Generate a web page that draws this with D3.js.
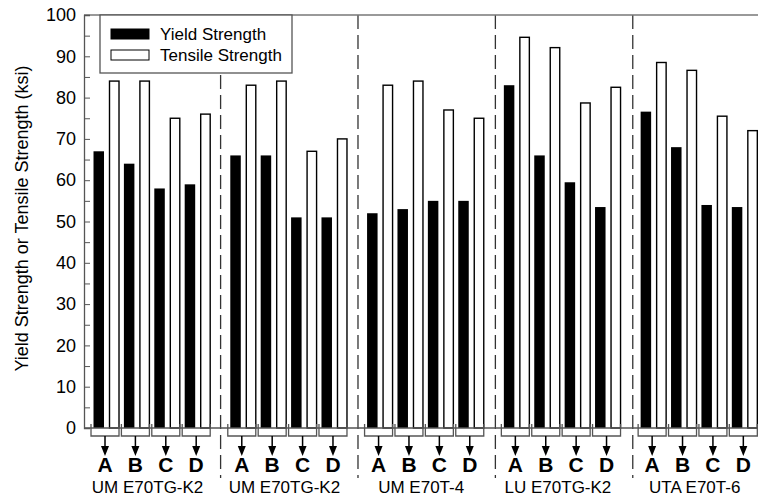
<!DOCTYPE html>
<html>
<head>
<meta charset="utf-8">
<script src="https://d3js.org/d3.v7.min.js"></script>
<style>
  body { margin: 0; background: #fff; }
  text { font-family: "Liberation Sans", Arial, sans-serif; fill: #000; }
</style>
</head>
<body>
<script>
// data (ksi)
var sections = ["UM E70TG-K2", "UM E70TG-K2", "UM E70T-4", "LU E70TG-K2", "UTA E70T-6"];
var specimens = ["A", "B", "C", "D"];
var yieldStrength = [67, 64, 58, 59,  66, 66, 51, 51,  52, 53, 55, 55,  83, 66, 59.5, 53.5,  76.6, 68, 54, 53.5];
var tensileStrength = [84, 84, 75, 76,  83, 84, 67, 70,  83, 84, 77, 75,  94.6, 92.1, 78.7, 82.5,  88.5, 86.6, 75.5, 72];
var yTicks = [0, 10, 20, 30, 40, 50, 60, 70, 80, 90, 100];
var yMinorTicks = [5, 15, 25, 35, 45, 55, 65, 75, 85, 95];

var w = 758, h = 499;
// note: "top" is taken by window.top, so plot edges get their own names
var plotLeft = 84, plotTop = 15, plotBottom = 428;

// one unit = one specimen slot, sections are 4 slots + half a slot gap
function slot(s, g) { return s * 4.5 + g + 0.5; }

var rows = [];
sections.forEach(function(sec, s) {
  specimens.forEach(function(sp, g) {
    var i = s * 4 + g;
    rows.push({ s: s, g: g, pos: slot(s, g), spec: sp, ys: yieldStrength[i], ts: tensileStrength[i] });
  });
});

var x = d3.scaleLinear().domain([-0.224, 21.95]).range([plotLeft, w]);
var y = d3.scaleLinear().domain([0, 100]).range([plotBottom, plotTop]);

var svg = d3.select("body").append("svg")
  .attr("width", w)
  .attr("height", h);

// dashed separators between sections
var seps = d3.range(1, sections.length).map(function(s) { return (slot(s - 1, 3) + slot(s, 0)) / 2 + 0.02 * s; });
svg.selectAll(".sep")
  .data(seps)
  .enter().append("line")
  .attr("x1", function(d) { return x(d); })
  .attr("x2", function(d) { return x(d); })
  .attr("y1", plotTop)
  .attr("y2", 478)
  .attr("stroke", "#333")
  .attr("stroke-width", 1.3)
  .attr("stroke-dasharray", "14,6");

// bars
var bw = 10.5;
svg.selectAll(".ys")
  .data(rows)
  .enter().append("rect")
  .attr("x", function(d) { return x(d.pos) - 12.5; })
  .attr("y", function(d) { return y(d.ys); })
  .attr("width", bw)
  .attr("height", function(d) { return plotBottom - y(d.ys); })
  .attr("fill", "#000");

svg.selectAll(".ts")
  .data(rows)
  .enter().append("rect")
  .attr("x", function(d) { return x(d.pos) + 3.5; })
  .attr("y", function(d) { return y(d.ts); })
  .attr("width", 9.5)
  .attr("height", function(d) { return plotBottom - y(d.ts); })
  .attr("fill", "#fff")
  .attr("stroke", "#000")
  .attr("stroke-width", 1.4);

// axes frame
svg.append("line").attr("x1", plotLeft).attr("x2", w).attr("y1", plotTop).attr("y2", plotTop)
  .attr("stroke", "#777").attr("stroke-width", 1.5);
svg.append("line").attr("x1", plotLeft).attr("x2", w).attr("y1", plotBottom).attr("y2", plotBottom)
  .attr("stroke", "#555").attr("stroke-width", 1.3);

var yAxis = svg.append("g")
  .attr("transform", "translate(" + plotLeft + ",0)")
  .call(d3.axisLeft(y).tickValues(yTicks).tickSize(-6).tickPadding(8));
yAxis.select(".domain").attr("stroke", "#555").attr("stroke-width", 1.3);
yAxis.selectAll(".tick line").attr("stroke", "#555");
yAxis.selectAll("text")
  .style("font-family", "'Liberation Sans', Arial, sans-serif")
  .style("font-size", "18px")
  .attr("fill", "#000");

svg.append("g")
  .attr("transform", "translate(" + plotLeft + ",0)")
  .call(d3.axisLeft(y).tickValues(yMinorTicks).tickSize(-6).tickFormat(""))
  .call(function(g) { g.select(".domain").remove(); })
  .selectAll("line").attr("stroke", "#555");

svg.append("text")
  .attr("transform", "rotate(-90)")
  .attr("x", -(plotTop + plotBottom) / 2 + 3)
  .attr("y", 28)
  .style("text-anchor", "middle")
  .style("font-size", "18px")
  .text("Yield Strength or Tensile Strength (ksi)");

// brackets and arrows under each specimen
var under = svg.selectAll(".grp")
  .data(rows)
  .enter().append("g");

under.append("path")
  .attr("d", function(d) {
    var a = x(d.pos) - 15, b = x(d.pos) + 13;
    return "M" + a + ",424V436H" + b + "V424";
  })
  .attr("fill", "none")
  .attr("stroke", "#555")
  .attr("stroke-width", 1.3);

under.append("line")
  .attr("x1", function(d) { return x(d.pos) - 1; })
  .attr("x2", function(d) { return x(d.pos) - 1; })
  .attr("y1", 436)
  .attr("y2", 448)
  .attr("stroke", "#000")
  .attr("stroke-width", 1.5);

under.append("path")
  .attr("d", function(d) {
    var c = x(d.pos) - 1;
    return "M" + (c - 4) + ",446L" + (c + 4) + ",446L" + c + ",456Z";
  })
  .attr("fill", "#000");

under.append("text")
  .attr("x", function(d) { return x(d.pos) - 1; })
  .attr("y", 472)
  .style("text-anchor", "middle")
  .style("font-size", "21px")
  .style("font-weight", "bold")
  .text(function(d) { return d.spec; });

svg.selectAll(".secLabel")
  .data(sections)
  .enter().append("text")
  .attr("x", function(d, s) { return (x(slot(s, 0)) + x(slot(s, 3))) / 2 - 4; })
  .attr("y", 493)
  .style("text-anchor", "middle")
  .style("font-size", "17px")
  .text(function(d) { return d; });

// legend
var legend = svg.append("g");
legend.append("rect")
  .attr("x", 100).attr("y", plotTop)
  .attr("width", 192).attr("height", 58)
  .attr("fill", "#fff")
  .attr("stroke", "#555")
  .attr("stroke-width", 1.3);
var legItems = [["Yield Strength", "#000"], ["Tensile Strength", "#fff"]];
legend.selectAll(".li")
  .data(legItems)
  .enter().append("rect")
  .attr("x", 111)
  .attr("y", function(d, i) { return 29 + i * 21; })
  .attr("width", 38)
  .attr("height", 10)
  .attr("fill", function(d) { return d[1]; })
  .attr("stroke", "#000")
  .attr("stroke-width", 1);
legend.selectAll(".lt")
  .data(legItems)
  .enter().append("text")
  .attr("x", 160)
  .attr("y", function(d, i) { return 40 + i * 21; })
  .style("font-size", "17px")
  .text(function(d) { return d[0]; });
</script>
</body>
</html>
